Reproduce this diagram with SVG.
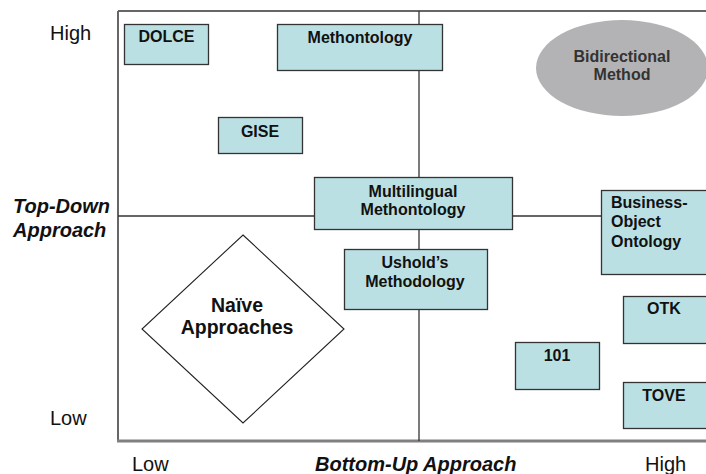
<svg xmlns="http://www.w3.org/2000/svg" width="706" height="474" viewBox="0 0 706 474">
<style>
.box{fill:#bae0e3;stroke:#333;stroke-width:1.3}
.t{font-family:"Liberation Sans",Arial,sans-serif;font-weight:bold;font-size:16px;fill:#111;text-anchor:middle}
.ax{font-family:"Liberation Sans",Arial,sans-serif;font-size:20px;fill:#111}
.axb{font-family:"Liberation Sans",Arial,sans-serif;font-size:20px;font-weight:bold;font-style:italic;fill:#111}
.ln{stroke:#333;stroke-width:1.3;fill:none}
</style>
<rect width="706" height="474" fill="#fff"/>
<g id="axes">
<line x1="118" y1="11" x2="706" y2="11" class="ln"/>
<line x1="118" y1="11" x2="118" y2="442" stroke="#666" stroke-width="2"/>
<line x1="117" y1="441" x2="706" y2="441" stroke="#808080" stroke-width="3"/>
</g>
<g id="connectors">
<line x1="419" y1="11" x2="419" y2="441" class="ln"/>
<line x1="118" y1="216" x2="601" y2="216" class="ln"/>
</g>
<g id="labels">
<text class="ax" x="50" y="40">High</text>
<text class="axb" x="13" y="213">Top-Down</text>
<text class="axb" x="13" y="237">Approach</text>
<text class="ax" x="50" y="425">Low</text>
<text class="ax" x="132" y="471">Low</text>
<text class="axb" x="315" y="471">Bottom-Up Approach</text>
<text class="ax" x="645" y="471">High</text>
</g>
<g id="dolce"><rect class="box" x="124.5" y="24.5" width="84" height="40"/><text class="t" x="166.5" y="42">DOLCE</text></g>
<g id="methontology"><rect class="box" x="277.5" y="24.5" width="165" height="46"/><text class="t" x="360" y="43">Methontology</text></g>
<g id="bidirectional"><ellipse cx="622" cy="68" rx="86" ry="48" fill="#b3b3b5"/><text class="t" x="622" y="62" style="fill:#333">Bidirectional</text><text class="t" x="622" y="80" style="fill:#333">Method</text></g>
<g id="gise"><rect class="box" x="218.5" y="117.5" width="84" height="36"/><text class="t" x="260" y="137">GISE</text></g>
<g id="multilingual"><rect class="box" x="314.5" y="177.5" width="198" height="52"/><text class="t" x="413" y="197">Multilingual</text><text class="t" x="413" y="215">Methontology</text></g>
<g id="business"><rect class="box" x="601.5" y="190.5" width="110" height="84"/><text class="t" x="611" y="208" style="text-anchor:start">Business-</text><text class="t" x="611" y="227" style="text-anchor:start">Object</text><text class="t" x="611" y="247" style="text-anchor:start">Ontology</text></g>
<g id="ushold"><rect class="box" x="344.5" y="249.5" width="143" height="60"/><text class="t" x="415" y="268">Ushold’s</text><text class="t" x="415" y="287">Methodology</text></g>
<g id="naive"><polygon points="243,235 344,329 243,423 142,329" fill="#fff" stroke="#222" stroke-width="1.1"/><text class="t" x="237" y="312" style="font-size:19.5px">Naïve</text><text class="t" x="237" y="334" style="font-size:19.5px">Approaches</text></g>
<g id="otk"><rect class="box" x="623.5" y="296.5" width="90" height="47"/><text class="t" x="664" y="314">OTK</text></g>
<g id="n101"><rect class="box" x="515.5" y="342.5" width="84" height="47"/><text class="t" x="557" y="361">101</text></g>
<g id="tove"><rect class="box" x="623.5" y="382.5" width="90" height="46"/><text class="t" x="664" y="401">TOVE</text></g>
</svg>
